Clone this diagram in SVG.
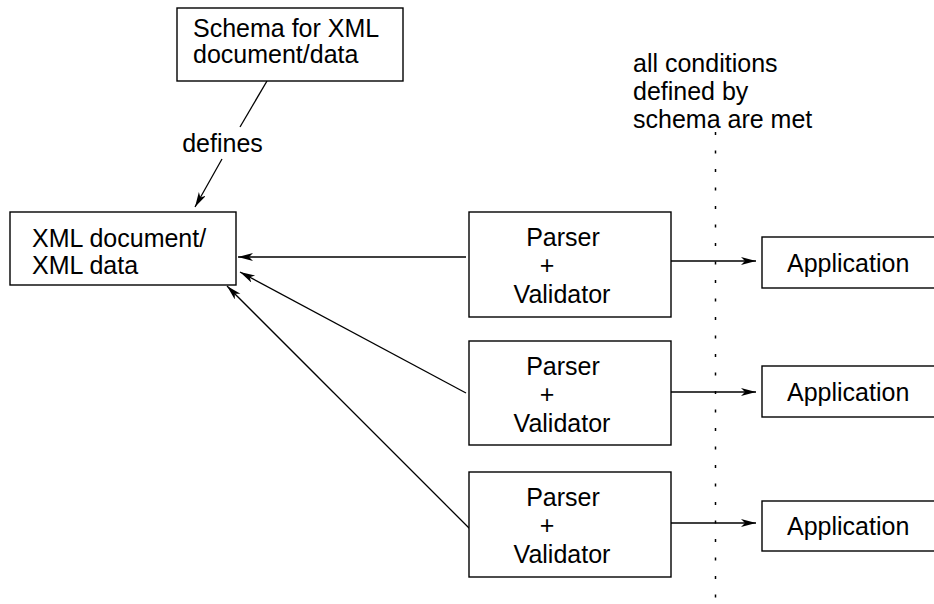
<svg xmlns="http://www.w3.org/2000/svg" width="934" height="604" viewBox="0 0 934 604">
  <style>
    .box { fill: #fff; stroke: #000; stroke-width: 1.4; }
    .t { font-family: "Liberation Sans", Arial, sans-serif; font-size: 25px; fill: #000; }
    .c { text-anchor: middle; }
    .edge { fill: none; stroke: #000; stroke-width: 1.3; }
    .dots { fill: none; stroke: #000; stroke-width: 1.5; stroke-dasharray: 3 15.5; }
  </style>
  <defs>
    <marker id="arrow" markerUnits="userSpaceOnUse" markerWidth="18" markerHeight="10" refX="15" refY="4" orient="auto">
      <path d="M0,0 L15,4 L0,8 L4,4 z" fill="#000"/>
    </marker>
  </defs>

  <rect width="934" height="604" fill="#fff"/>

  <!-- boundary: conditions met -->
  <g id="boundary">
    <line class="dots" x1="715.5" y1="132" x2="715.5" y2="604"/>
    <text class="t" x="633" y="72">all conditions</text>
    <text class="t" x="633" y="100">defined by</text>
    <text class="t" x="633" y="128">schema are met</text>
  </g>

  <!-- connectors -->
  <g id="connectors">
    <line class="edge" x1="267" y1="81" x2="240" y2="127"/>
    <line class="edge" x1="222" y1="159" x2="195" y2="207" marker-end="url(#arrow)"/>
    <text class="t c" x="222.5" y="152">defines</text>

    <line class="edge" x1="466" y1="257" x2="238" y2="257" marker-end="url(#arrow)"/>
    <line class="edge" x1="466" y1="393" x2="240" y2="272" marker-end="url(#arrow)"/>
    <line class="edge" x1="471" y1="530" x2="227" y2="286" marker-end="url(#arrow)"/>

    <line class="edge" x1="671" y1="261" x2="756" y2="261" marker-end="url(#arrow)"/>
    <line class="edge" x1="671" y1="392" x2="756" y2="392" marker-end="url(#arrow)"/>
    <line class="edge" x1="671" y1="523" x2="756" y2="523" marker-end="url(#arrow)"/>
  </g>

  <g id="schema">
    <rect class="box" x="177" y="8" width="226" height="73"/>
    <text class="t" x="193" y="37">Schema for XML</text>
    <text class="t" x="193" y="63">document/data</text>
  </g>

  <g id="xml-document">
    <rect class="box" x="10" y="212" width="226" height="73"/>
    <text class="t" x="32" y="247">XML document/</text>
    <text class="t" x="32" y="274">XML data</text>
  </g>

  <g id="validator-1">
    <rect class="box" x="469" y="212" width="202" height="105"/>
    <text class="t c" x="563" y="246">Parser</text>
    <text class="t c" x="547" y="274">+</text>
    <text class="t c" x="562" y="303">Validator</text>
  </g>

  <g id="validator-2">
    <rect class="box" x="469" y="341" width="202" height="104"/>
    <text class="t c" x="563" y="375">Parser</text>
    <text class="t c" x="547" y="403">+</text>
    <text class="t c" x="562" y="432">Validator</text>
  </g>

  <g id="validator-3">
    <rect class="box" x="469" y="472" width="202" height="105"/>
    <text class="t c" x="563" y="506">Parser</text>
    <text class="t c" x="547" y="534">+</text>
    <text class="t c" x="562" y="563">Validator</text>
  </g>

  <g id="application-1">
    <rect class="box" x="762" y="237" width="180" height="51"/>
    <text class="t" x="787" y="272">Application</text>
  </g>

  <g id="application-2">
    <rect class="box" x="762" y="366" width="180" height="51"/>
    <text class="t" x="787" y="401">Application</text>
  </g>

  <g id="application-3">
    <rect class="box" x="762" y="501" width="180" height="50"/>
    <text class="t" x="787" y="535">Application</text>
  </g>
</svg>
